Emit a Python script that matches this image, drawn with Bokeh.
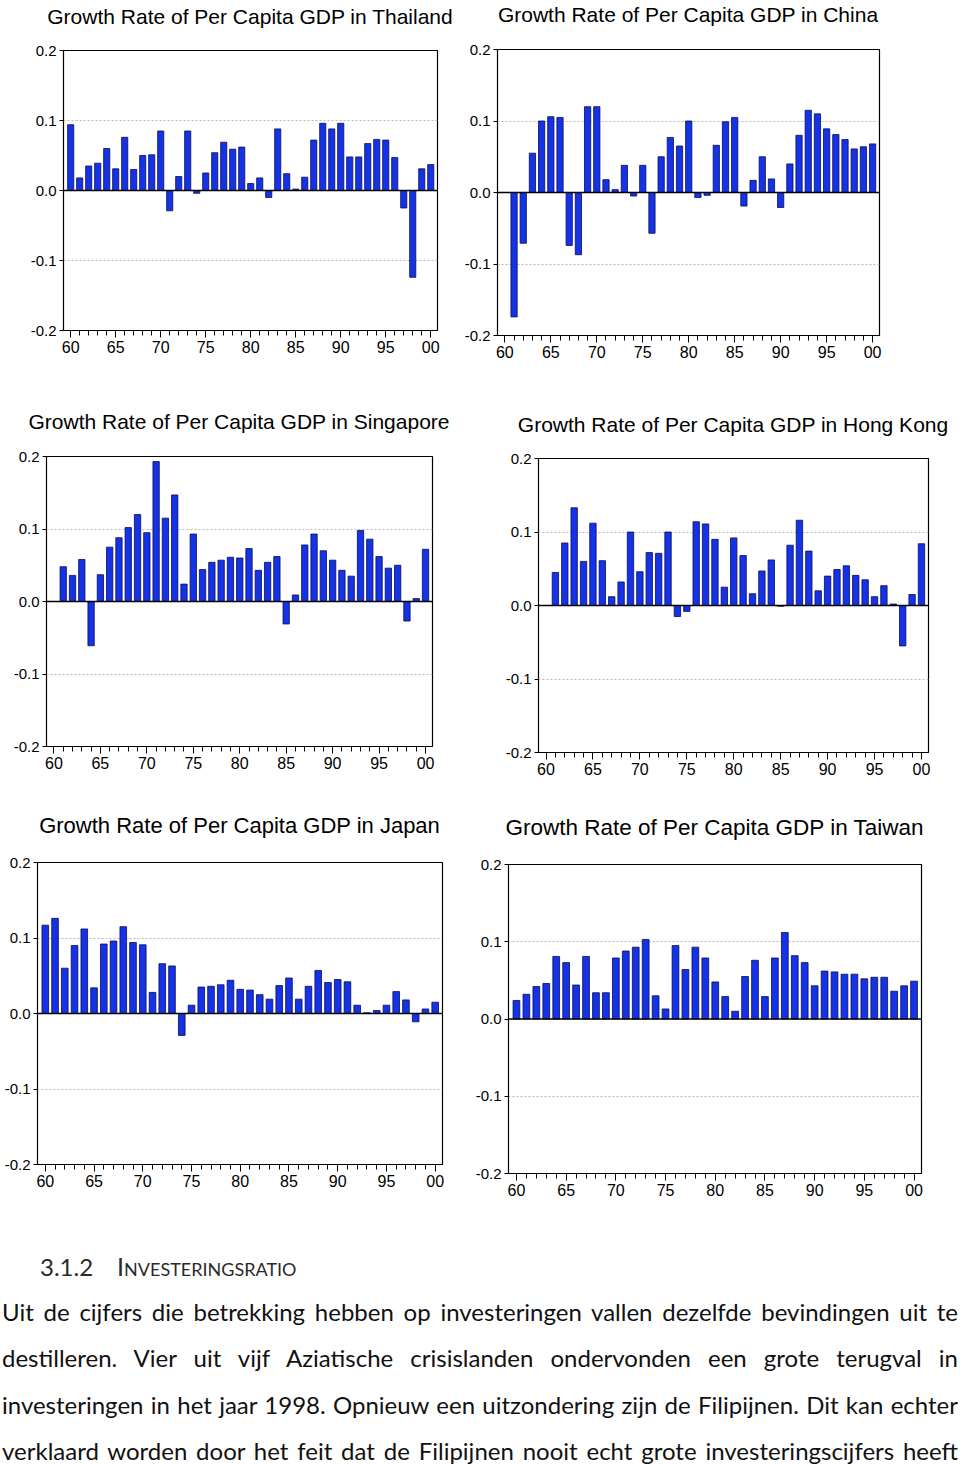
from bokeh.plotting import figure
from bokeh.models import (FixedTicker, PrintfTickFormatter, CustomJSTickFormatter, Span,
                          Range1d, Div, ColumnDataSource)
from bokeh.layouts import column, row
from bokeh.embed import file_html
from bokeh.resources import INLINE

# ---------------- data ----------------
years_from_1960 = list(range(1960, 2001))
years_from_1961 = list(range(1961, 2001))

thailand = [0.094, 0.018, 0.035, 0.039, 0.060, 0.031, 0.076, 0.030, 0.050, 0.051,
            0.085, -0.029, 0.020, 0.085, -0.004, 0.025, 0.054, 0.069, 0.059, 0.062,
            0.010, 0.018, -0.010, 0.088, 0.024, 0.002, 0.019, 0.072, 0.096, 0.088,
            0.096, 0.048, 0.048, 0.067, 0.073, 0.072, 0.047, -0.025, -0.124, 0.031,
            0.037]
china = [-0.174, -0.071, 0.055, 0.100, 0.106, 0.105, -0.074, -0.087, 0.120,
         0.120, 0.018, 0.004, 0.038, -0.005, 0.038, -0.057, 0.050, 0.077, 0.065,
         0.100, -0.007, -0.004, 0.066, 0.099, 0.105, -0.019, 0.017, 0.050, 0.019,
         -0.021, 0.040, 0.080, 0.115, 0.110, 0.089, 0.081, 0.074, 0.061, 0.064,
         0.068]
singapore = [0.048, 0.036, 0.058, -0.061, 0.037, 0.075, 0.088, 0.102, 0.120,
             0.095, 0.193, 0.115, 0.147, 0.024, 0.093, 0.044, 0.054, 0.057, 0.061,
             0.060, 0.073, 0.043, 0.054, 0.062, -0.031, 0.009, 0.078, 0.093, 0.070,
             0.057, 0.043, 0.035, 0.098, 0.086, 0.062, 0.046, 0.050, -0.027, 0.004,
             0.072]
hong_kong = [0.045, 0.085, 0.133, 0.060, 0.112, 0.061, 0.012, 0.032, 0.100,
             0.046, 0.072, 0.071, 0.100, -0.015, -0.008, 0.114, 0.111, 0.090, 0.025,
             0.092, 0.068, 0.016, 0.047, 0.062, -0.001, 0.082, 0.116, 0.074, 0.020,
             0.040, 0.049, 0.054, 0.041, 0.035, 0.012, 0.027, 0.002, -0.055, 0.015,
             0.084]
japan = [0.117, 0.126, 0.060, 0.090, 0.112, 0.034, 0.092, 0.096, 0.115, 0.094,
         0.091, 0.028, 0.066, 0.063, -0.029, 0.011, 0.035, 0.036, 0.038, 0.044,
         0.032, 0.031, 0.025, 0.019, 0.037, 0.047, 0.019, 0.036, 0.057, 0.041,
         0.045, 0.042, 0.011, 0.001, 0.004, 0.011, 0.029, 0.018, -0.011, 0.006,
         0.015]
taiwan = [0.024, 0.032, 0.042, 0.046, 0.081, 0.073, 0.044, 0.081, 0.034, 0.034,
          0.079, 0.088, 0.093, 0.103, 0.030, 0.013, 0.095, 0.064, 0.093, 0.079,
          0.048, 0.029, 0.010, 0.055, 0.076, 0.029, 0.079, 0.112, 0.082, 0.073,
          0.043, 0.062, 0.061, 0.058, 0.058, 0.052, 0.054, 0.054, 0.036, 0.043,
          0.049]

titles = ["Growth Rate of Per Capita GDP in Thailand",
          "Growth Rate of Per Capita GDP in China",
          "Growth Rate of Per Capita GDP in Singapore",
          "Growth Rate of Per Capita GDP in Hong Kong",
          "Growth Rate of Per Capita GDP in Japan",
          "Growth Rate of Per Capita GDP in Taiwan"]

y_ticks = [-0.2, -0.1, 0.0, 0.1, 0.2]
x_major_ticks = list(range(1960, 2001, 5))
x_minor_ticks = list(range(1960, 2001))

heading_number = "3.1.2"
heading_text = "Investeringsratio"
paragraph_lines = [
    "Uit de cijfers die betrekking hebben op investeringen vallen dezelfde bevindingen uit te",
    "destilleren. Vier uit vijf Aziatische crisislanden ondervonden een grote terugval in",
    "investeringen in het jaar 1998. Opnieuw een uitzondering zijn de Filipijnen. Dit kan echter",
    "verklaard worden door het feit dat de Filipijnen nooit echt grote investeringscijfers heeft",
]

FONT = "Liberation Sans"


def panel(title, yrs, vals, w, title_h, title_pad, fig_h, bl, br, bb, title_size=21):
    head = Div(width=w, height=title_h, margin=0, text=(
        f'<div style="box-sizing: border-box; padding-left: {bl}px; padding-top: {title_pad}px; '
        f'width: {w - br}px; display: flex; justify-content: center; '
        f'font-family: \'{FONT}\', Arial, sans-serif; '
        f'font-size: {title_size}px; line-height: 20px; color: #000; white-space: nowrap;">'
        f'<span>{title}</span></div>'))

    p = figure(width=w, height=fig_h, x_range=Range1d(1959.2, 2000.75),
               y_range=Range1d(-0.2, 0.2), output_backend="svg",
               toolbar_location=None,
               min_border_left=bl, min_border_right=br,
               min_border_top=10, min_border_bottom=bb)

    p.outline_line_color = "black"
    p.outline_line_width = 1.2
    p.outline_line_alpha = 1

    p.xgrid.visible = False
    p.ygrid.ticker = FixedTicker(ticks=[-0.1, 0.1])
    p.ygrid.grid_line_color = "#b8b8b8"
    p.ygrid.grid_line_dash = "2 2"
    p.ygrid.grid_line_width = 1

    src = ColumnDataSource(dict(x=yrs, top=vals))
    p.vbar(x="x", top="top", bottom=0, width=0.68, source=src,
           fill_color="#1433e6", line_color="#0b0b55", line_width=0.8)
    p.add_layout(Span(location=0, dimension="width", line_color="black", line_width=1.3))

    ya = p.yaxis[0]
    ya.ticker = FixedTicker(ticks=y_ticks)
    ya.formatter = PrintfTickFormatter(format="%.1f")
    ya.major_tick_in = 0
    ya.major_tick_out = 4
    ya.minor_tick_line_color = None
    ya.major_label_text_font = FONT
    ya.major_label_text_font_size = "15px"
    ya.major_label_text_color = "black"
    ya.major_label_standoff = 3
    ya.axis_line_color = "black"

    xa = p.xaxis[0]
    xa.ticker = FixedTicker(ticks=x_major_ticks, minor_ticks=x_minor_ticks)
    xa.formatter = CustomJSTickFormatter(code="return String(Math.round(tick) % 100).padStart(2, '0');")
    xa.major_tick_in = 0
    xa.major_tick_out = 7
    xa.minor_tick_in = 0
    xa.minor_tick_out = 5
    xa.minor_tick_line_color = "black"
    xa.major_label_text_font = FONT
    xa.major_label_text_font_size = "16px"
    xa.major_label_text_color = "black"
    xa.major_label_standoff = 3
    xa.axis_line_color = "black"
    return column(head, p, spacing=0)


c1 = panel(titles[0], years_from_1960, thailand, 455, 40, 7, 360, 63, 18, 70)
c2 = panel(titles[1], years_from_1961, china, 505, 39, 5, 361, 42, 81, 65)
c3 = panel(titles[2], years_from_1961, singapore, 490, 46, 12, 359, 46, 58, 59)
c4 = panel(titles[3], years_from_1961, hong_kong, 470, 48, 15, 357, 48, 32, 53)
c5 = panel(titles[4], years_from_1960, japan, 465, 47, 11, 368, 37, 23, 56, 22)
c6 = panel(titles[5], years_from_1960, taiwan, 495, 49, 13, 366, 43, 39, 47, 22.5)

heading = Div(width=956, height=69, margin=0, text=(
    '<div style="font-family: Lato, sans-serif; font-size: 24px; color: #2a2a2a; '
    'padding-left: 40px; padding-top: 34px; line-height: 24px; white-space: nowrap;">'
    f'{heading_number}<span style="margin-left: 24px; font-size: 25px; '
    f'font-variant: small-caps;">{heading_text}</span></div>'))

line_style = ("text-align: justify; text-align-last: justify; white-space: nowrap; "
              "height: 46.3px; line-height: 46.3px;")
last_style = ("text-align: justify; text-align-last: justify; white-space: nowrap; "
              "height: 24px; line-height: 24px; margin-top: 11px;")
line_divs = "".join(
    f'<div style="{last_style if i == len(paragraph_lines) - 1 else line_style}">{ln}</div>'
    for i, ln in enumerate(paragraph_lines))
para = Div(width=956, height=176, margin=(0, 0, 0, 2), text=(
    f'<div style="font-family: Lato, sans-serif; font-size: 24px; color: #111; width: 956px;">{line_divs}</div>'))

layout = column(row(c1, c2, spacing=0), row(c3, c4, spacing=0), row(c5, c6, spacing=0),
                heading, para, spacing=0)

open("out.html", "w").write(file_html(layout, INLINE))
